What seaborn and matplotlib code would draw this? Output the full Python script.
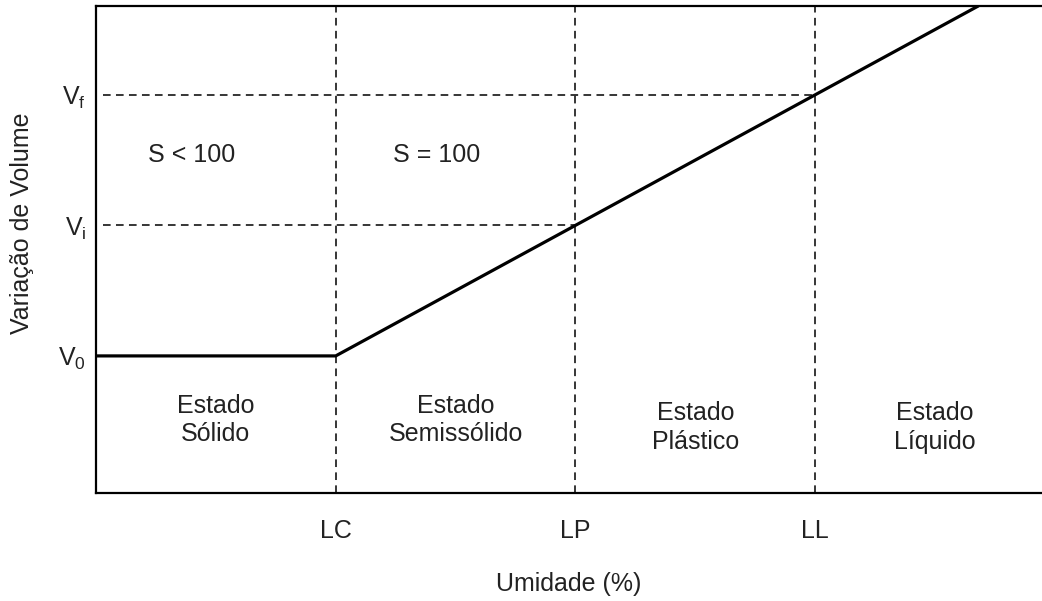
import matplotlib
matplotlib.use("Agg")
import matplotlib.pyplot as plt
import pandas as pd
import seaborn as sns

# limits of consistency on the moisture axis, and volume levels
limit_names = ["LC", "LP", "LL"]
limit_pos = [1, 2, 3]
volume_names = [r"$\mathregular{V_0}$", r"$\mathregular{V_i}$", r"$\mathregular{V_f}$"]
volume_pos = [1, 2, 3]

# shrinkage curve: flat below LC, then linear
curve_x = [0, 1, 3.68]
curve_y = [1, 1, 3.68]

state_labels = ["Estado\nSólido", "Estado\nSemissólido", "Estado\nPlástico", "Estado\nLíquido"]
state_x = [0.5, 1.5, 2.5, 3.5]
state_y = [0.51, 0.51, 0.45, 0.45]

sat_labels = ["S < 100", "S = 100"]
sat_x = [0.40, 1.42]
sat_y = [2.54, 2.54]

sns.set_theme(style="white")
plt.rcParams["font.family"] = ["Liberation Sans", "DejaVu Sans"]
plt.rcParams["mathtext.fontset"] = "custom"
plt.rcParams["mathtext.rm"] = "Liberation Sans"
plt.rcParams["mathtext.it"] = "Liberation Sans"

txt = "#222222"
fs = 18
fig = plt.figure(figsize=(10.42, 6.01), dpi=100)
ax = fig.add_axes([0.0921, 0.1797, 0.9079, 0.8103])

df = pd.DataFrame({"x": curve_x, "y": curve_y})
sns.lineplot(data=df, x="x", y="y", ax=ax, color="black", lw=2.3, zorder=3)

for xv in limit_pos:
    ax.axvline(xv, color="black", lw=1.1, dashes=(5, 3.5), zorder=2)
# horizontal guides run from the y axis to the curve
for yv, xend in zip(volume_pos[1:], limit_pos[1:]):
    ax.plot([0.03, xend], [yv, yv], color="black", lw=1.1, dashes=(5, 3.5), zorder=2)

for s, x, y in zip(state_labels, state_x, state_y):
    ax.text(x, y, s, ha="center", va="center", fontsize=fs, color=txt, linespacing=1.25)
for s, x, y in zip(sat_labels, sat_x, sat_y):
    ax.text(x, y, s, ha="center", va="center", fontsize=fs, color=txt)

ax.set_xlim(0, 3.946)
ax.set_ylim(-0.05, 3.68)
ax.set_xticks(limit_pos)
ax.set_xticklabels(limit_names)
ax.set_yticks(volume_pos)
ax.set_yticklabels(volume_names)
ax.tick_params(axis="x", length=0, pad=19, labelsize=fs, labelcolor=txt)
ax.tick_params(axis="y", length=0, pad=7, labelsize=fs, labelcolor=txt)

ax.set_xlabel("Umidade (%)", fontsize=fs, color=txt)
ax.set_ylabel("Variação de Volume", fontsize=fs, color=txt)
ax.xaxis.set_label_coords(0.5, -0.162)
ax.yaxis.set_label_coords(-0.065, 0.554)

ax.spines["right"].set_visible(False)
for side in ["left", "top", "bottom"]:
    ax.spines[side].set_color("black")
    ax.spines[side].set_linewidth(1.6)

fig.savefig("out.png", dpi=100)
plt.close(fig)
